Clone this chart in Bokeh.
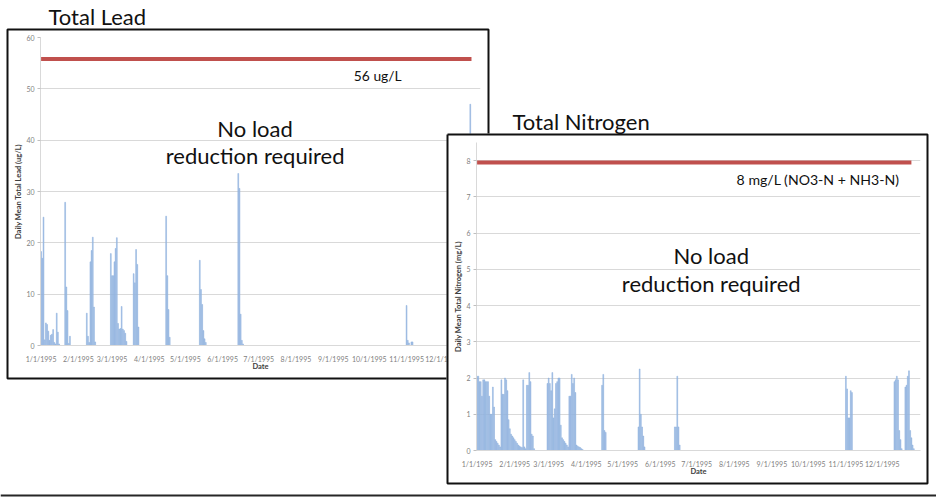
from bokeh.plotting import figure
from bokeh.models import Range1d, FixedTicker, Label, ColumnDataSource
from bokeh.layouts import row, column
from bokeh.embed import file_html
from bokeh.resources import INLINE

# ---------------- data ----------------
month_ticks = [0, 31, 59, 90, 120, 151, 181, 212, 243, 273, 304, 334]
month_labels = ["1/1/1995", "2/1/1995", "3/1/1995", "4/1/1995", "5/1/1995", "6/1/1995",
                "7/1/1995", "8/1/1995", "9/1/1995", "10/1/1995", "11/1/1995", "12/1/1995"]

lead_days = [0, 1, 2, 3, 4, 5, 6, 7, 8, 9, 10, 11, 12, 13, 14, 15,
             20, 21, 22, 23, 24,
             38, 39, 40, 41, 42, 43, 44, 45,
             58, 59, 60, 61, 62, 63, 64, 65, 66, 67, 68, 69, 70, 71,
             77, 78, 79, 80, 81,
             104, 105, 106, 107,
             132, 133, 134, 135, 136, 137,
             164, 165, 166, 167, 168,
             304, 305, 306, 308, 309,
             357]
lead_vals = [18.3, 17.0, 25.0, 1.1, 4.4, 4.1, 2.8, 1.0, 2.0, 2.2, 3.1, 0.6, 0.3, 6.3, 2.6, 0.3,
             27.9, 11.4, 6.8, 0.4, 1.8,
             6.3, 1.8, 0.6, 16.3, 18.5, 21.1, 7.5, 0.7,
             17.9, 13.6, 13.6, 16.3, 18.9, 21.0, 4.3, 3.2, 3.3, 7.6, 3.2, 2.9, 2.4, 0.8,
             14.0, 12.2, 18.7, 15.8, 3.6,
             25.2, 13.6, 7.0, 1.6,
             16.6, 10.9, 8.0, 2.9, 1.3, 0.6,
             33.5, 30.6, 6.1, 1.0, 0.3,
             7.8, 1.0, 0.5, 0.7, 0.7,
             47.0]

nitro_days = [0, 1, 2, 3, 4, 5, 6, 7, 8, 9, 10, 11, 12, 13, 14, 15, 16, 17, 18, 19,
              20, 21, 22, 23, 24, 25, 26, 27, 28, 29, 30, 31, 32, 33, 34, 35, 36, 37,
              38, 39, 40, 41, 42, 43, 44, 45, 46, 47,
              58, 59, 60, 61, 62, 63, 64, 65, 66, 67, 68, 69, 70, 71, 72, 73, 74, 75,
              76, 77, 78, 79, 80, 81, 82, 83, 84, 85, 86, 87,
              103, 104, 105, 106,
              133, 134, 135, 136, 137, 138,
              163, 164, 165, 166, 167,
              304, 305, 306, 307, 308, 309,
              344, 345, 346, 347, 348, 349, 350,
              353, 354, 355, 356, 357, 358, 359, 360]
nitro_vals = [2.05, 2.05, 1.9, 1.9, 1.5, 1.95, 1.95, 1.9, 1.9, 1.9, 1.5, 1.0, 1.0, 1.75, 1.2, 0.3, 0.25, 0.2, 0.15, 0.1,
              1.95, 1.55, 1.55, 2.0, 1.95, 1.65, 0.85, 0.6, 0.45, 0.4, 0.35, 0.3, 0.25, 0.2, 0.15, 0.12, 0.1, 0.08,
              1.95, 0.1, 0.05, 1.8, 1.8, 2.15, 1.9, 0.45, 0.4, 0.05,
              1.85, 2.0, 1.85, 1.65, 2.15, 0.9, 1.15, 1.85, 1.9, 2.0, 2.0, 0.7, 0.35, 0.3, 0.25, 0.2, 0.15, 0.1,
              1.5, 1.5, 2.1, 1.85, 2.0, 1.6, 0.15, 0.12, 0.1, 0.08, 0.05, 0.03,
              1.8, 2.1, 0.55, 0.5,
              0.65, 2.25, 1.0, 0.65, 0.4, 0.1,
              0.65, 0.65, 2.05, 0.65, 0.15,
              2.05, 1.7, 0.9, 0.9, 1.65, 1.6,
              1.9, 1.95, 2.05, 1.95, 0.55, 0.3, 0.05,
              1.75, 1.8, 2.05, 2.2, 0.55, 0.35, 0.15, 0.05]

lead_limit = 55.8
nitro_limit = 7.95
limit_span = [0, 358]
lead_ticks = [0, 10, 20, 30, 40, 50, 60]
nitro_ticks = [0, 1, 2, 3, 4, 5, 6, 7, 8]

FONT = "Lato"
BAR_FILL = "#a3bfe5"
BAR_LINE = "#8aaedd"
RED = "#c0504d"
INK = "#111111"
W, H = 936, 498


def chart(w, h, ymax, yticks, ylabel, days, vals, limit, borders, margin):
    left, right, top, bottom = borders
    p = figure(width=w, height=h, x_range=Range1d(-0.5, 365.5), y_range=Range1d(0, ymax),
               output_backend="svg", toolbar_location=None,
               min_border_left=left, min_border_right=right,
               min_border_top=top, min_border_bottom=bottom,
               background_fill_color="white", border_fill_color="white",
               outline_line_color=None, margin=margin)
    src = ColumnDataSource(dict(day=days, val=vals))
    p.vbar(x="day", top="val", bottom=0, width=0.7, source=src,
           fill_color=BAR_FILL, line_color=BAR_LINE, line_width=0.5)
    p.segment(x0=[limit_span[0]], x1=[limit_span[1]], y0=[limit], y1=[limit],
              line_color=RED, line_width=4)

    xa = p.xaxis[0]
    xa.ticker = FixedTicker(ticks=month_ticks)
    xa.major_label_overrides = {t: l for t, l in zip(month_ticks, month_labels)}
    xa.axis_label = "Date"
    xa.major_tick_line_color = None
    xa.minor_tick_line_color = None
    xa.axis_line_color = "#d9d9d9"
    xa.major_label_standoff = 3
    xa.axis_label_standoff = -4

    ya = p.yaxis[0]
    ya.ticker = FixedTicker(ticks=yticks)
    ya.axis_label = ylabel
    ya.major_tick_out = 3
    ya.major_tick_in = 0
    ya.major_tick_line_color = "#bfbfbf"
    ya.minor_tick_line_color = None
    ya.axis_line_color = "#d9d9d9"
    ya.major_label_standoff = 3
    ya.axis_label_standoff = 0

    for ax in (xa, ya):
        ax.major_label_text_font = FONT
        ax.major_label_text_font_size = "7px"
        ax.major_label_text_color = "#7f7f7f"
        ax.axis_label_text_font = FONT
        ax.axis_label_text_font_size = "7.5px"
        ax.axis_label_text_font_style = "bold"
        ax.axis_label_text_color = "#404040"

    p.xgrid.visible = False
    p.ygrid.ticker = FixedTicker(ticks=yticks)
    p.ygrid.grid_line_color = "#d9d9d9"
    return p


def note(p, x, y, text, size):
    p.add_layout(Label(x=x, y=y, text=text, text_align="center", text_baseline="middle",
                       text_font=FONT, text_font_size=size, text_color=INK))


lead = chart(483, 351, 60, lead_ticks, "Daily Mean Total Lead (ug/L)",
             lead_days, lead_vals, lead_limit, (34, 9, 9, 34), (28, 0, 0, 6))
note(lead, 280, 52.6, "56 ug/L", "13.8px")
note(lead, 178, 42.3, "No load", "22px")
note(lead, 178, 37.0, "reduction required", "22px")

nitro = chart(482, 351, 8.5, nitro_ticks, "Daily Mean Total Nitrogen (mg/L)",
              nitro_days, nitro_vals, nitro_limit, (30, 8, 9, 33), (133, 0, 0, -43))
note(nitro, 281, 7.47, "8 mg/L (NO3-N + NH3-N)", "14.1px")
note(nitro, 193, 5.38, "No load", "22px")
note(nitro, 193, 4.61, "reduction required", "22px")

# transparent overlay in page pixels: chart frames (boxes), titles, slide rule
over = figure(width=W, height=H, x_range=Range1d(0, W), y_range=Range1d(H, 0),
              output_backend="svg", toolbar_location=None,
              x_axis_location=None, y_axis_location=None, min_border=0,
              border_fill_color=None, background_fill_color=None, outline_line_color=None,
              margin=(-484, 0, 0, 0))
over.grid.visible = False
# lead box (its lower right part lies under the nitrogen chart)
over.line(x=[446, 7, 7, 488, 488], y=[378, 378, 29, 29, 133], line_color=INK, line_width=2)
# nitrogen box
over.line(x=[447, 927, 927, 447, 447], y=[134, 134, 483, 483, 134], line_color=INK, line_width=2)
# slide rule at the bottom
over.line(x=[0, W], y=[495, 495], line_color="#262626", line_width=2)
over.add_layout(Label(x=48, y=16, text="Total Lead", text_font=FONT, text_font_size="22px",
                      text_color=INK, text_baseline="middle"))
over.add_layout(Label(x=512, y=121, text="Total Nitrogen", text_font=FONT,
                      text_font_size="22px", text_color=INK, text_baseline="middle"))

page = column(row(lead, nitro), over)
open("out.html", "w").write(file_html(page, INLINE))
